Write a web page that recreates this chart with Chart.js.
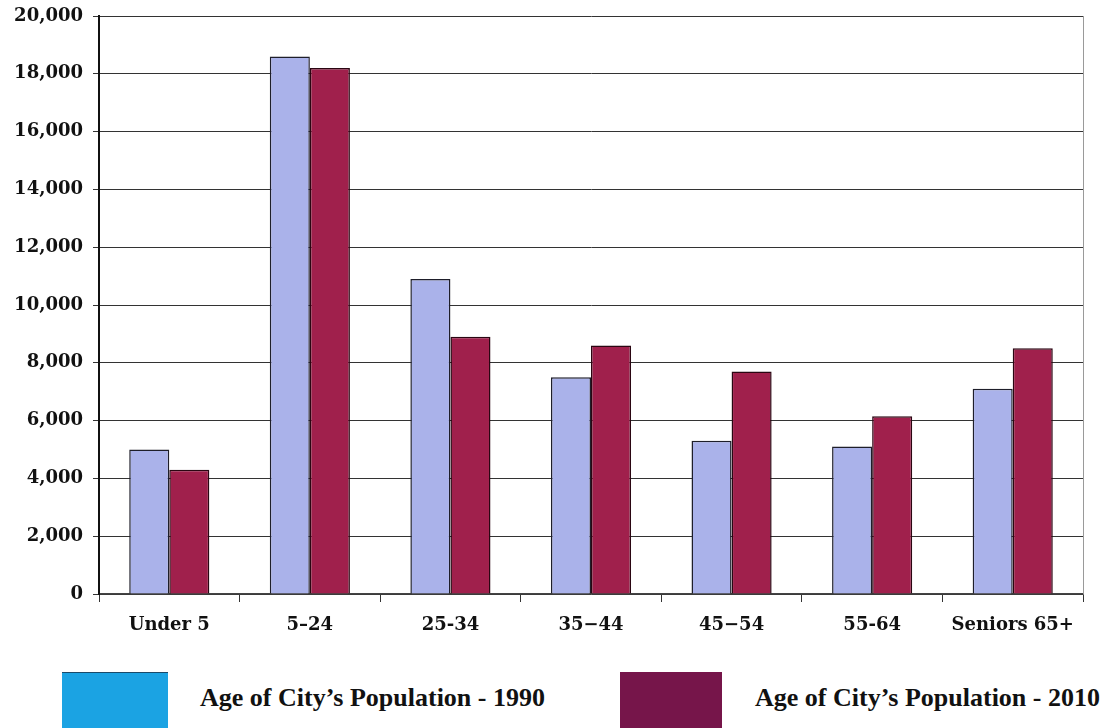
<!DOCTYPE html>
<html>
<head>
<meta charset="utf-8">
<script src="https://cdn.jsdelivr.net/npm/chart.js@4/dist/chart.umd.min.js"></script>
<style>
  html, body { margin: 0; padding: 0; background: #fff; width: 1107px; height: 728px; overflow: hidden; }
  #wrap { position: absolute; left: 0; top: 0; width: 1107px; height: 644px; }
  .sw { position: absolute; top: 672px; height: 58px; }
  .lt { position: absolute; top: 683px; font-family: "Liberation Serif", serif; font-weight: bold; font-size: 26px; color: #111; white-space: nowrap; }
</style>
</head>
<body>
<div id="wrap"><canvas id="c"></canvas></div>
<div class="sw" style="left:62px;width:106px;background:#1ba3e3;border-top:1px solid #1a4a6a;"></div>
<div class="lt" style="left:200px;">Age of City’s Population - 1990</div>
<div class="sw" style="left:620px;width:102px;background:#76154a;"></div>
<div class="lt" style="left:755px;">Age of City’s Population - 2010</div>
<script>
const categories = ["Under 5", "5\u201324", "25-34", "35\u221244", "45\u221254", "55-64", "Seniors 65+"];
const pop1990 = [5000, 18600, 10900, 7500, 5300, 5100, 7100];
const pop2010 = [4300, 18200, 8900, 8600, 7700, 6150, 8500];
const yTicks = [0, 2000, 4000, 6000, 8000, 10000, 12000, 14000, 16000, 18000, 20000];

const rightBorder = {
  id: 'rightBorder',
  afterDraw(chart) {
    const a = chart.chartArea, ctx = chart.ctx;
    ctx.save();
    ctx.strokeStyle = '#9a9a9a';
    ctx.lineWidth = 1;
    ctx.beginPath();
    ctx.moveTo(a.right + 0.5, a.top);
    ctx.lineTo(a.right + 0.5, a.bottom);
    ctx.stroke();
    ctx.restore();
  }
};

new Chart(document.getElementById('c'), {
  type: 'bar',
  data: {
    labels: categories,
    datasets: [
      { label: "Age of City’s Population - 1990", data: pop1990, backgroundColor: '#aab2ea', borderColor: '#1e1e2a', borderWidth: 1.5, categoryPercentage: 0.57, barPercentage: 1.0 },
      { label: "Age of City’s Population - 2010", data: pop2010, backgroundColor: '#a0204c', borderColor: '#2a0612', borderWidth: 1.5, categoryPercentage: 0.57, barPercentage: 1.0 }
    ]
  },
  options: {
    responsive: true,
    maintainAspectRatio: false,
    animation: false,
    layout: { padding: { left: 0, right: 24, top: 16, bottom: 0 } },
    plugins: { legend: { display: false }, tooltip: { enabled: false } },
    scales: {
      x: {
        grid: { display: true, drawOnChartArea: false, drawTicks: true, tickLength: 8, color: '#333', offset: true },
        border: { display: true, color: '#444', width: 1.5 },
        ticks: { padding: 13, color: '#111', font: { family: 'DejaVu Serif', weight: 'bold', size: 18 } },
        afterFit(scale) { scale.height = 50; }
      },
      y: {
        min: 0, max: 20000,
        afterBuildTicks(scale) { scale.ticks = yTicks.map(v => ({ value: v })); },
        grid: { color: '#333', lineWidth: 1, tickLength: 6, drawTicks: true },
        border: { display: true, color: '#111', width: 2 },
        ticks: {
          padding: 10, color: '#111',
          font: { family: 'DejaVu Serif', weight: 'bold', size: 18 },
          callback: v => v.toLocaleString('en-US')
        },
        afterFit(scale) { scale.width = 99; scale.paddingTop = 0; scale.paddingBottom = 0; }
      }
    }
  },
  plugins: [rightBorder]
});
</script>
</body>
</html>
